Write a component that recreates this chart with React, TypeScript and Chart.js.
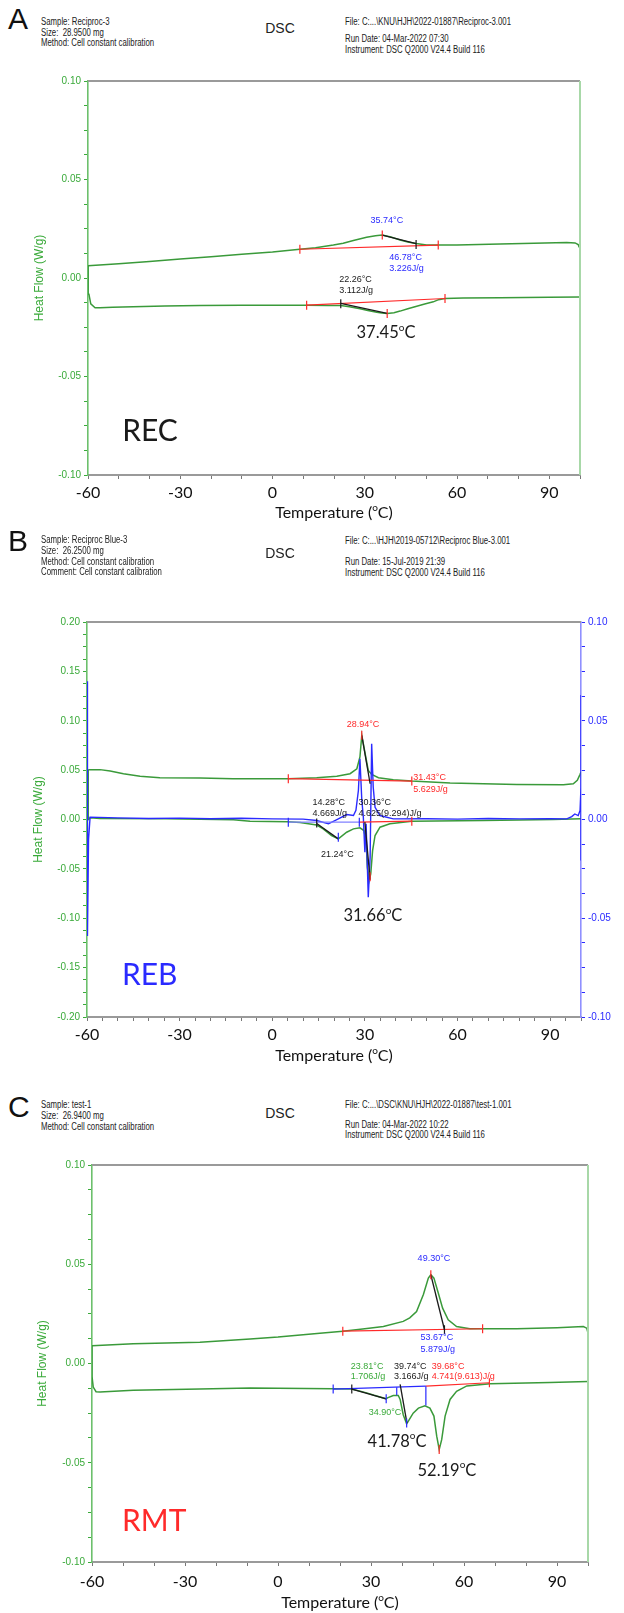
import React, { useEffect, useRef } from 'react';
import { Chart, registerables } from 'chart.js';
Chart.register(...registerables);

// ---------- colours ----------
const GREEN = '#3a9a3a';
const AXIS_GREEN = '#3aaa3a';
const BLUE = '#2a2aff';
const RED = '#ff2a2a';
const BLACK = '#1a1a1a';

// ---------- x axis ----------
const X_MIN = -60;
const X_MAX = 100;
const X_LABEL_EVERY = 30;

// ================= Panel A : REC =================
const recHeatT = [-60, -50, -40, -30, -20, -10, 0, 8.9, 14, 19.8, 23, 26.3, 30.6, 33.5, 35.7, 38.5, 41.5, 44, 46.7, 50.1, 53.9, 60, 74, 85, 95.7, 98.4, 99.4, 99.8];
const recHeatHF = [0.0062, 0.0072, 0.0084, 0.0096, 0.0108, 0.012, 0.0132, 0.0146, 0.0154, 0.0167, 0.0176, 0.019, 0.0207, 0.0215, 0.0218, 0.0208, 0.0193, 0.0183, 0.0175, 0.0168, 0.0167, 0.0168, 0.0172, 0.0176, 0.018, 0.0178, 0.017, 0.0155];
const recCoolT = [99.8, 90, 74, 62, 56.1, 54, 52.3, 49.5, 46.9, 44, 41.5, 39.5, 37.3, 35.5, 33.9, 31, 28.5, 25, 22.2, 18, 11.1, 0, -10, -23.6, -35, -45.3, -52, -56.1, -57.7, -59.1, -59.7, -59.9, -60];
const recCoolHF = [-0.0097, -0.0098, -0.01, -0.0102, -0.0104, -0.011, -0.0121, -0.0132, -0.0143, -0.0156, -0.0168, -0.0176, -0.018, -0.0178, -0.0174, -0.0165, -0.0156, -0.0146, -0.014, -0.0139, -0.0138, -0.0138, -0.0138, -0.0139, -0.0142, -0.0146, -0.0149, -0.0151, -0.0151, -0.0131, -0.0082, -0.0014, 0.0062];
const recRedBaseUpT = [8.9, 53.9];
const recRedBaseUpHF = [0.0146, 0.0167];
const recRedBaseLoT = [11.1, 56.1];
const recRedBaseLoHF = [-0.0138, -0.0104];
const recTanUpT = [35.7, 46.7];
const recTanUpHF = [0.0218, 0.0175];
const recTanLoT = [22.2, 37.3];
const recTanLoHF = [-0.0129, -0.018];
const recRedTickT = [8.9, 35.7, 53.9, 11.1, 37.3, 56.1];
const recRedTickHF = [0.0146, 0.0218, 0.0167, -0.0138, -0.018, -0.0104];
const recBlackTickT = [46.7, 22.2];
const recBlackTickHF = [0.017, -0.0131];

// ================= Panel B : REB =================
const rebHeatT = [-59.6, -55.8, -52.5, -48.2, -42.8, -36.4, -23.4, -12.7, 5.2, 14.4, 20.9, 25.2, 27.4, 28.4, 29.0, 29.7, 31.1, 32.2, 34.4, 39.2, 45.2, 57.6, 79.2, 94.3, 97.5, 98.8, 99.7, 100];
const rebHeatHF = [0.0505, 0.0505, 0.049, 0.0464, 0.0437, 0.0423, 0.0419, 0.0413, 0.0413, 0.0423, 0.0437, 0.0464, 0.0514, 0.0633, 0.0853, 0.0734, 0.0497, 0.0457, 0.0423, 0.0403, 0.0389, 0.0369, 0.0355, 0.0352, 0.0361, 0.0396, 0.0457, 0.048];
const rebCoolT = [100, 91, 68.4, 45.2, 38.1, 34.9, 33.3, 32.5, 31.9, 31.4, 30.8, 30.4, 29.7, 28.4, 26.3, 24.1, 21.4, 19.2, 16.5, 14.4, 9, 5.2, -7.2, -12.6, -34.2, -55.8, -59.0, -59.6, -59.6];
const rebCoolHF = [0.0007, 0.0, -0.001, -0.0017, -0.0044, -0.0078, -0.0162, -0.0315, -0.0551, -0.0619, -0.0484, -0.0213, -0.0112, -0.0084, -0.0095, -0.0129, -0.0196, -0.0162, -0.0095, -0.0056, -0.003, -0.0024, -0.0017, -0.0003, 0.0007, 0.001, 0.0017, 0.0, 0.0505];
const rebRevT = [-60, -59.9, -59.8, -59.5, -59, -50, -40, -30, -20, -10, 0, 10, 14.4, 18.2, 21.4, 24.1, 26.3, 27.1, 27.9, 28.4, 29.0, 29.5, 30.0, 30.4, 31.1, 31.7, 32.2, 32.7, 33.3, 34.9, 39.2, 50, 60, 70, 80, 90, 95.4, 97, 98, 99.1, 99.7, 100, 100, 100, 100];
const rebRevHF = [0.07, 0.03, -0.059, -0.01, 0.0012, 0.0008, 0.0005, 0.0007, 0.0004, 0.0006, 0.0003, 0.0002, -0.0005, -0.0022, 0.0003, 0.0025, 0.002, 0.0046, 0.0147, 0.0308, 0.01, 0.0012, -0.0166, -0.0022, -0.0394, -0.019, 0.0384, 0.0164, 0.0062, 0.002, 0.0003, 0.0004, 0.0002, 0.0005, 0.0003, 0.0004, 0.0003, 0.0015, 0.0028, 0.002, 0.0046, 0.0164, 0.063, -0.0208, 0.0];
const rebRedBaseUpT = [5.2, 45.2];
const rebRedBaseUpHF = [0.0413, 0.0389];
const rebBlueBaseLoT = [5.2, 28.2];
const rebBlueBaseLoHF = [-0.0027, -0.0027];
const rebRedBaseLoT = [28.2, 45.2];
const rebRedBaseLoHF = [-0.0027, -0.0017];
const rebTanUpT = [29.0, 31.7];
const rebTanUpHF = [0.0853, 0.0362];
const rebTanLo1T = [14.4, 21.4];
const rebTanLo1HF = [-0.004, -0.0196];
const rebTanLo2T = [30.0, 31.7];
const rebTanLo2HF = [-0.0027, -0.061];
const rebRedTickT = [5.2, 29.0, 45.2, 45.2, 31.7];
const rebRedTickHF = [0.0413, 0.0853, 0.0389, -0.0017, -0.058];
const rebBlueTickT = [5.2, 21.4, 28.2];
const rebBlueTickHF = [-0.0027, -0.018, -0.0027];
const rebBlackTickT = [14.4];
const rebBlackTickHF = [-0.0035];

// ================= Panel C : RMT =================
const rmtHeatT = [-60, -46.7, -25.2, -9, 0, 13.5, 20.9, 28, 34, 40.4, 42.5, 44.7, 46.9, 48.5, 49.3, 50.3, 51.7, 53.1, 54.9, 57.6, 61.9, 70, 77, 90, 98.5, 99.6, 100];
const rmtHeatHF = [0.009, 0.01, 0.0107, 0.0124, 0.0133, 0.0153, 0.0163, 0.0175, 0.0186, 0.0212, 0.023, 0.0262, 0.0348, 0.043, 0.0447, 0.043, 0.0355, 0.0279, 0.022, 0.0186, 0.0175, 0.0175, 0.0175, 0.018, 0.0186, 0.0178, 0.0153];
const rmtCoolT = [100, 87.7, 68.4, 60.9, 57.6, 55.5, 53.9, 52.8, 52.0, 51.2, 50.3, 49.0, 47.4, 45.3, 43.6, 42.0, 41.5, 40.4, 39.4, 38.8, 37.2, 35.3, 34.9, 31, 28.6, 23.8, 17.8, 0, -9, -25.2, -46.7, -57.4, -58.7, -59.6, -60, -60, -60];
const rmtCoolHF = [-0.0091, -0.0096, -0.0102, -0.0113, -0.014, -0.0181, -0.0265, -0.0384, -0.0433, -0.0366, -0.0265, -0.0225, -0.0213, -0.0225, -0.025, -0.0292, -0.0304, -0.0258, -0.0181, -0.0161, -0.0161, -0.0173, -0.0178, -0.016, -0.0148, -0.0129, -0.0127, -0.0125, -0.0124, -0.0129, -0.0135, -0.0144, -0.0142, -0.0119, -0.0065, -0.0023, 0.009];
const rmtRedBaseUpT = [20.9, 66];
const rmtRedBaseUpHF = [0.0163, 0.0175];
const rmtTanUpT = [49.3, 53.7];
const rmtTanUpHF = [0.0447, 0.017];
const rmtBlueBaseLoT = [17.8, 47.7];
const rmtBlueBaseLoHF = [-0.0129, -0.0114];
const rmtRedBaseLoT = [47.7, 68.2];
const rmtRedBaseLoHF = [-0.0114, -0.0097];
const rmtBlueV1T = [38.3, 38.3];
const rmtBlueV1HF = [-0.012, -0.016];
const rmtBlueV2T = [47.7, 47.7];
const rmtBlueV2HF = [-0.0114, -0.0211];
const rmtTanLo1T = [23.8, 34.9];
const rmtTanLo1HF = [-0.0129, -0.0178];
const rmtTanLo2T = [39.4, 41.6];
const rmtTanLo2HF = [-0.0105, -0.03];
const rmtRedTickT = [20.9, 49.3, 66, 68.2, 52.0];
const rmtRedTickHF = [0.0163, 0.0447, 0.0175, -0.0097, -0.0433];
const rmtBlueTickT = [17.8, 34.9, 41.5];
const rmtBlueTickHF = [-0.0129, -0.0178, -0.03];
const rmtBlackTickT = [23.8, 53.7];
const rmtBlackTickHF = [-0.0129, 0.017];

// ---------- helpers ----------
const pts = (t: number[], v: number[]) => t.map((x, i) => ({ x, y: v[i] }));
const curve = (t: number[], v: number[], color: string, width = 1.5, axis = 'y') => ({
  data: pts(t, v), showLine: true, borderColor: color, backgroundColor: color, borderWidth: width,
  pointRadius: 0, pointHoverRadius: 0, yAxisID: axis, fill: false, tension: 0,
});
const marks = (t: number[], v: number[], color: string, axis = 'y') => ({
  data: pts(t, v), showLine: false, pointStyle: 'line', rotation: 90, pointRadius: 4.5,
  pointBorderColor: color, pointBorderWidth: 1.2, pointBackgroundColor: color, borderColor: color, yAxisID: axis,
});

type Ann = { t: string; x: number; y: number; c: string; a: CanvasTextAlign; size?: number; fam?: string };

function drawRich(ctx: CanvasRenderingContext2D, text: string, x: number, y: number, align: CanvasTextAlign, size: number, fam: string, color: string) {
  const parts = text.split('^o');
  const big = `${size}px ${fam}`;
  const small = `${Math.round(size * 0.62)}px ${fam}`;
  ctx.font = big;
  const w1 = ctx.measureText(parts[0]).width;
  let ws = 0, w2 = 0;
  if (parts.length > 1) {
    ctx.font = small; ws = ctx.measureText('o').width;
    ctx.font = big; w2 = ctx.measureText(parts[1]).width;
  }
  const total = w1 + ws + w2;
  let sx = x;
  if (align === 'center') sx = x - total / 2;
  else if (align === 'right') sx = x - total;
  ctx.fillStyle = color;
  ctx.textAlign = 'left';
  ctx.textBaseline = 'middle';
  ctx.font = big;
  ctx.fillText(parts[0], sx, y);
  if (parts.length > 1) {
    ctx.font = small;
    ctx.fillText('o', sx + w1, y - size * 0.33);
    ctx.font = big;
    ctx.fillText(parts[1], sx + w1 + ws, y);
  }
}

type PanelDef = {
  key: string;
  canvasTop: number; canvasH: number; padTop: number; yW: number; y2W?: number; padRight: number;
  xH: number; yMin: number; yMax: number; yTitlePad: number; xTickPad: number; xTitleOff: number; xStep: number;
  rightBorder: string | null;
  datasets: any[];
  anns: Ann[];
};

const SMALL = 9;
const BIG = 16.5;
const LBL = 30;

const panels: PanelDef[] = [
  {
    key: 'A', canvasTop: 60, canvasH: 470, padTop: 21, yW: 88, padRight: 44, xH: 55,
    yMin: -0.1, yMax: 0.1, yTitlePad: 33, xTickPad: 4, xTitleOff: 38, xStep: 10, rightBorder: '#a8d8a8',
    datasets: [
      marks(recRedTickT, recRedTickHF, RED),
      marks(recBlackTickT, recBlackTickHF, BLACK),
      curve(recTanUpT, recTanUpHF, BLACK, 1.3),
      curve(recTanLoT, recTanLoHF, BLACK, 1.3),
      curve(recRedBaseUpT, recRedBaseUpHF, RED, 1.2),
      curve(recRedBaseLoT, recRedBaseLoHF, RED, 1.2),
      curve(recHeatT, recHeatHF, GREEN),
      curve(recCoolT, recCoolHF, GREEN),
    ],
    anns: [
      { t: '35.74°C', x: 37.2, y: 0.0291, c: BLUE, a: 'center' },
      { t: '46.78°C', x: 38.0, y: 0.0104, c: BLUE, a: 'left' },
      { t: '3.226J/g', x: 38.0, y: 0.0046, c: BLUE, a: 'left' },
      { t: '22.26°C', x: 21.7, y: -0.001, c: BLACK, a: 'left' },
      { t: '3.112J/g', x: 21.7, y: -0.0066, c: BLACK, a: 'left' },
      { t: '37.45^oC', x: 36.9, y: -0.028, c: BLACK, a: 'center', size: BIG, fam: 'Lato' },
      { t: 'REC', x: -48.9, y: -0.078, c: BLACK, a: 'left', size: LBL, fam: 'Lato' },
    ],
  },
  {
    key: 'B', canvasTop: 580, canvasH: 510, padTop: 42, yW: 87, y2W: 43, padRight: 0, xH: 73,
    yMin: -0.2, yMax: 0.2, yTitlePad: 32, xTickPad: 4, xTitleOff: 39, xStep: 5, rightBorder: null,
    datasets: [
      marks(rebRedTickT, rebRedTickHF, RED),
      marks(rebBlueTickT, rebBlueTickHF, BLUE),
      marks(rebBlackTickT, rebBlackTickHF, BLACK),
      curve(rebTanUpT, rebTanUpHF, BLACK, 1.3),
      curve(rebTanLo1T, rebTanLo1HF, BLACK, 1.3),
      curve(rebTanLo2T, rebTanLo2HF, BLACK, 1.3),
      curve(rebRedBaseUpT, rebRedBaseUpHF, RED, 1.2),
      curve(rebRedBaseLoT, rebRedBaseLoHF, RED, 1.2),
      curve(rebBlueBaseLoT, rebBlueBaseLoHF, '#8080ff', 1.2),
      curve(rebRevT, rebRevHF, BLUE, 1.4, 'y2'),
      curve(rebHeatT, rebHeatHF, GREEN),
      curve(rebCoolT, rebCoolHF, GREEN),
    ],
    anns: [
      { t: '28.94°C', x: 29.4, y: 0.0964, c: RED, a: 'center' },
      { t: '31.43°C', x: 45.7, y: 0.0426, c: RED, a: 'left' },
      { t: '5.629J/g', x: 45.7, y: 0.0305, c: RED, a: 'left' },
      { t: '14.28°C', x: 13.0, y: 0.0173, c: BLACK, a: 'left' },
      { t: '4.669J/g', x: 13.0, y: 0.0061, c: BLACK, a: 'left' },
      { t: '30.36°C', x: 27.9, y: 0.0173, c: BLACK, a: 'left' },
      { t: '4.625(9.294)J/g', x: 27.9, y: 0.0061, c: BLACK, a: 'left' },
      { t: '21.24°C', x: 21.1, y: -0.0355, c: BLACK, a: 'center' },
      { t: '31.66^oC', x: 32.6, y: -0.0975, c: BLACK, a: 'center', size: BIG, fam: 'Lato' },
      { t: 'REB', x: -48.7, y: -0.158, c: BLUE, a: 'left', size: LBL, fam: 'Lato' },
    ],
  },
  {
    key: 'C', canvasTop: 1145, canvasH: 468, padTop: 20, yW: 92, padRight: 36, xH: 51,
    yMin: -0.1, yMax: 0.1, yTitlePad: 36, xTickPad: 6, xTitleOff: 41, xStep: 10, rightBorder: '#a8d8a8',
    datasets: [
      marks(rmtRedTickT, rmtRedTickHF, RED),
      marks(rmtBlueTickT, rmtBlueTickHF, BLUE),
      marks(rmtBlackTickT, rmtBlackTickHF, BLACK),
      curve(rmtTanUpT, rmtTanUpHF, BLACK, 1.3),
      curve(rmtTanLo1T, rmtTanLo1HF, BLACK, 1.3),
      curve(rmtTanLo2T, rmtTanLo2HF, BLACK, 1.3),
      curve(rmtBlueV1T, rmtBlueV1HF, BLUE, 1.2),
      curve(rmtBlueV2T, rmtBlueV2HF, BLUE, 1.2),
      curve(rmtRedBaseUpT, rmtRedBaseUpHF, RED, 1.2),
      curve(rmtRedBaseLoT, rmtRedBaseLoHF, RED, 1.2),
      curve(rmtBlueBaseLoT, rmtBlueBaseLoHF, BLUE, 1.2),
      curve(rmtHeatT, rmtHeatHF, GREEN),
      curve(rmtCoolT, rmtCoolHF, GREEN),
    ],
    anns: [
      { t: '49.30°C', x: 50.3, y: 0.0529, c: BLUE, a: 'center' },
      { t: '53.67°C', x: 46.0, y: 0.0131, c: BLUE, a: 'left' },
      { t: '5.879J/g', x: 46.0, y: 0.0071, c: BLUE, a: 'left' },
      { t: '23.81°C', x: 23.5, y: -0.0015, c: AXIS_GREEN, a: 'left' },
      { t: '1.706J/g', x: 23.5, y: -0.0066, c: AXIS_GREEN, a: 'left' },
      { t: '39.74°C', x: 37.4, y: -0.0015, c: BLACK, a: 'left' },
      { t: '3.166J/g', x: 37.4, y: -0.0066, c: BLACK, a: 'left' },
      { t: '39.68°C', x: 49.6, y: -0.0015, c: RED, a: 'left' },
      { t: '4.741(9.613)J/g', x: 49.6, y: -0.0066, c: RED, a: 'left' },
      { t: '34.90°C', x: 34.5, y: -0.0247, c: AXIS_GREEN, a: 'center' },
      { t: '41.78^oC', x: 38.4, y: -0.0393, c: BLACK, a: 'center', size: BIG, fam: 'Lato' },
      { t: '52.19^oC', x: 54.5, y: -0.0539, c: BLACK, a: 'center', size: BIG, fam: 'Lato' },
      { t: 'RMT', x: -50.3, y: -0.0796, c: RED, a: 'left', size: LBL, fam: 'Lato' },
    ],
  },
];

const yLabel = (v: any) => {
  const n = Number(v);
  if (Math.abs(n * 20 - Math.round(n * 20)) > 1e-6) return '';
  const r = Math.round(n * 20) / 20;
  return r === 0 ? '0.00' : r.toFixed(2);
};

function makeYAxis(p: PanelDef, position: 'left' | 'right', min: number, max: number, color: string, border: string, width: number, withTitle: boolean) {
  return {
    type: 'linear', position, min, max,
    afterFit: (s: any) => { s.width = width; },
    ticks: { stepSize: 0.0125, autoSkip: false, color, padding: 3, font: { family: 'Liberation Sans', size: 10 }, callback: yLabel },
    grid: { drawOnChartArea: false, drawTicks: true, tickLength: 4, color, lineWidth: 1 },
    border: { display: true, color: border, width: 1.6 },
    title: withTitle
      ? { display: true, text: 'Heat Flow (W/g)', color: AXIS_GREEN, font: { family: 'Liberation Sans', size: 12 }, padding: { top: p.yTitlePad - 1, bottom: 0 } }
      : { display: false },
  };
}

function PanelChart({ p }: { p: PanelDef }) {
  const ref = useRef<HTMLCanvasElement | null>(null);
  useEffect(() => {
    if (!ref.current) return;
    const plugin = {
      id: 'dsc' + p.key,
      afterDatasetsDraw(chart: any) {
        const { ctx, chartArea: ca, scales } = chart;
        ctx.save();
        ctx.strokeStyle = '#9a9a9a';
        ctx.lineWidth = 2;
        ctx.beginPath(); ctx.moveTo(ca.left, ca.top); ctx.lineTo(ca.right, ca.top); ctx.stroke();
        if (p.rightBorder) {
          ctx.strokeStyle = p.rightBorder;
          ctx.lineWidth = 2;
          ctx.beginPath(); ctx.moveTo(ca.right, ca.top); ctx.lineTo(ca.right, ca.bottom); ctx.stroke();
        }
        drawRich(ctx, 'Temperature (^oC)', (ca.left + ca.right) / 2, ca.bottom + p.xTitleOff, 'center', 16, 'Lato', '#111');
        for (const a of p.anns) {
          const px = scales.x.getPixelForValue(a.x);
          const py = scales.y.getPixelForValue(a.y);
          drawRich(ctx, a.t, px, py, a.a, a.size || SMALL, a.fam || "'Liberation Sans'", a.c);
        }
        ctx.restore();
      },
    };
    const scales: any = {
      x: {
        type: 'linear', min: X_MIN, max: X_MAX, position: 'bottom',
        afterFit: (s: any) => { s.height = p.xH; },
        ticks: {
          stepSize: p.xStep, autoSkip: false, maxRotation: 0, minRotation: 0, color: '#111', padding: p.xTickPad,
          font: { family: 'Lato', size: 16 },
          callback: (v: any) => (Number(v) % X_LABEL_EVERY === 0 ? String(v) : ''),
        },
        grid: { drawOnChartArea: false, drawTicks: true, tickLength: 4, color: '#777' },
        border: { display: true, color: '#9a9a9a', width: 2 },
        title: { display: false },
      },
      y: makeYAxis(p, 'left', p.yMin, p.yMax, AXIS_GREEN, '#6cc06c', p.yW, true),
    };
    if (p.y2W) scales.y2 = makeYAxis(p, 'right', -0.1, 0.1, BLUE, '#9090ff', p.y2W, false);
    const chart = new Chart(ref.current, {
      type: 'scatter',
      data: { datasets: p.datasets },
      options: {
        responsive: false, animation: false, devicePixelRatio: 1,
        layout: { padding: { top: p.padTop, right: p.padRight, left: 0, bottom: 0 } },
        plugins: { legend: { display: false }, tooltip: { enabled: false } },
        events: [],
        scales,
      } as any,
      plugins: [plugin],
    } as any);
    return () => chart.destroy();
  }, [p]);
  return (
    <canvas ref={ref} width={624} height={p.canvasH}
      style={{ position: 'absolute', left: 0, top: p.canvasTop, width: 624, height: p.canvasH }} />
  );
}

type Hdr = { letter: string; letterY: number; left: string[]; leftY: number[]; dscY: number; right: string[]; rightY: number[] };
const headers: Hdr[] = [
  {
    letter: 'A', letterY: 19, dscY: 28,
    left: ['Sample: Reciproc-3', 'Size:  28.9500 mg', 'Method: Cell constant calibration'], leftY: [22, 33, 43],
    right: ['File: C:...\\KNU\\HJH\\2022-01887\\Reciproc-3.001', 'Run Date: 04-Mar-2022 07:30', 'Instrument: DSC Q2000 V24.4 Build 116'], rightY: [22, 39, 50],
  },
  {
    letter: 'B', letterY: 541, dscY: 553,
    left: ['Sample: Reciproc Blue-3', 'Size:  26.2500 mg', 'Method: Cell constant calibration', 'Comment: Cell constant calibration'], leftY: [540, 551, 562, 572],
    right: ['File: C:...\\HJH\\2019-05712\\Reciproc Blue-3.001', 'Run Date: 15-Jul-2019 21:39', 'Instrument: DSC Q2000 V24.4 Build 116'], rightY: [541, 562, 573],
  },
  {
    letter: 'C', letterY: 1107, dscY: 1113,
    left: ['Sample: test-1', 'Size:  26.9400 mg', 'Method: Cell constant calibration'], leftY: [1105, 1116, 1127],
    right: ['File: C:...\\DSC\\KNU\\HJH\\2022-01887\\test-1.001', 'Run Date: 04-Mar-2022 10:22', 'Instrument: DSC Q2000 V24.4 Build 116'], rightY: [1105, 1125, 1135],
  },
];

const smallText = (x: number, y: number, s: string, k: string) => (
  <div key={k} style={{
    position: 'absolute', left: x, top: y - 6, height: 12, lineHeight: '12px', whiteSpace: 'pre',
    fontFamily: "'Liberation Sans', Arial, sans-serif", fontSize: 10, color: '#222',
    transform: 'scaleX(0.78)', transformOrigin: 'left center',
  }}>{s}</div>
);

export default function App() {
  return (
    <div style={{ position: 'absolute', left: 0, top: 0, width: 624, height: 1613, background: '#fff', overflow: 'hidden' }}>
      {panels.map((p) => <PanelChart key={p.key} p={p} />)}
      {headers.map((h, hi) => (
        <React.Fragment key={'h' + hi}>
          <div style={{ position: 'absolute', left: 8, top: h.letterY - 17, lineHeight: '34px', fontFamily: "'Liberation Sans', Arial, sans-serif", fontSize: 30, color: '#111' }}>{h.letter}</div>
          {h.left.map((s, i) => smallText(41, h.leftY[i], s, 'l' + i))}
          {h.right.map((s, i) => smallText(345, h.rightY[i], s, 'r' + i))}
          <div style={{ position: 'absolute', left: 250, width: 60, textAlign: 'center', top: h.dscY - 9, lineHeight: '18px', fontFamily: "'Liberation Sans', Arial, sans-serif", fontSize: 14, color: '#222' }}>DSC</div>
        </React.Fragment>
      ))}
    </div>
  );
}
